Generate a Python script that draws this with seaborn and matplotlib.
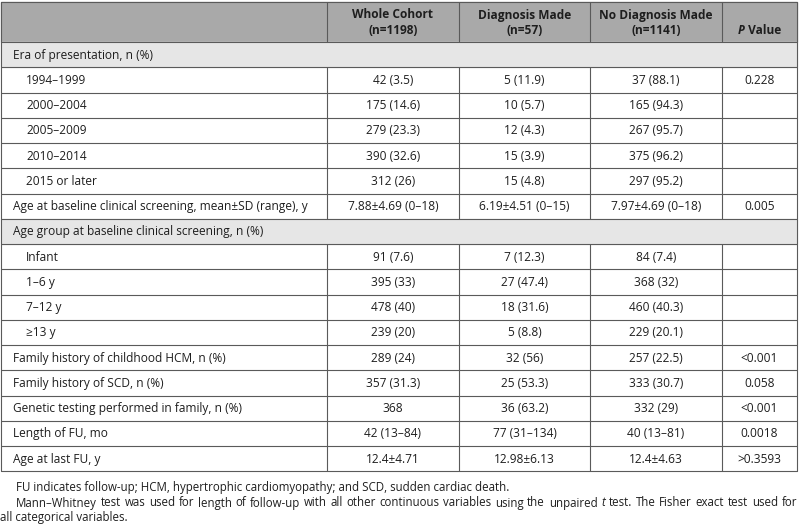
import matplotlib
matplotlib.use("Agg")
import matplotlib.pyplot as plt
import seaborn as sns
from matplotlib import font_manager

# table contents
headers = ["Whole Cohort\n(n=1198)", "Diagnosis Made\n(n=57)", "No Diagnosis Made\n(n=1141)"]
row_labels = [
    "Era of presentation, n (%)",
    "1994\u20131999", "2000\u20132004", "2005\u20132009", "2010\u20132014", "2015 or later",
    "Age at baseline clinical screening, mean\u00b1SD (range), y",
    "Age group at baseline clinical screening, n (%)",
    "Infant", "1\u20136 y", "7\u201312 y", "\u226513 y",
    "Family history of childhood HCM, n (%)",
    "Family history of SCD, n (%)",
    "Genetic testing performed in family, n (%)",
    "Length of FU, mo",
    "Age at last FU, y",
]
# 0 = group heading row, 1 = sub item, 2 = plain row
row_level = [0, 1, 1, 1, 1, 1, 2, 0, 1, 1, 1, 1, 2, 2, 2, 2, 2]
whole = ["", "42 (3.5)", "175 (14.6)", "279 (23.3)", "390 (32.6)", "312 (26)",
         "7.88\u00b14.69 (0\u201318)", "", "91 (7.6)", "395 (33)", "478 (40)", "239 (20)",
         "289 (24)", "357 (31.3)", "368", "42 (13\u201384)", "12.4\u00b14.71"]
diag = ["", "5 (11.9)", "10 (5.7)", "12 (4.3)", "15 (3.9)", "15 (4.8)",
        "6.19\u00b14.51 (0\u201315)", "", "7 (12.3)", "27 (47.4)", "18 (31.6)", "5 (8.8)",
        "32 (56)", "25 (53.3)", "36 (63.2)", "77 (31\u2013134)", "12.98\u00b16.13"]
nodiag = ["", "37 (88.1)", "165 (94.3)", "267 (95.7)", "375 (96.2)", "297 (95.2)",
          "7.97\u00b14.69 (0\u201318)", "", "84 (7.4)", "368 (32)", "460 (40.3)", "229 (20.1)",
          "257 (22.5)", "333 (30.7)", "332 (29)", "40 (13\u201381)", "12.4\u00b14.63"]
pvals = ["", "0.228", "", "", "", "", "0.005", "", "", "", "", "",
         "<0.001", "0.058", "<0.001", "0.0018", ">0.3593"]
note1 = "FU indicates follow-up; HCM, hypertrophic cardiomyopathy; and SCD, sudden cardiac death."
note2 = ("Mann\u2013Whitney test was used for length of follow-up with all other continuous "
         "variables using the unpaired *t test. The Fisher exact test used for")
note3 = "all categorical variables."

sns.set_theme(style="white")
avail = {f.name for f in font_manager.fontManager.ttflist}
body_font = "Open Sans" if "Open Sans" in avail else "DejaVu Sans"
plt.rcParams["font.family"] = [body_font, "DejaVu Sans"]

fig = plt.figure(figsize=(8, 5.29), dpi=100)
ax = fig.add_axes([0, 0, 1, 1])
ax.set_xlim(0, 800)
ax.set_ylim(529, 0)
ax.axis("off")
fig.canvas.draw()
rend = fig.canvas.get_renderer()

col_edges = [1, 327, 459, 590, 722, 797]
head_top, head_bot = 2, 42
row_h = 25.25
n = len(row_labels)
table_bot = head_bot + n * row_h
line_c = "#5a5a5a"
txt_c = "#1e1e1e"
lw = 0.8
fs = 8.6

# header background
ax.add_patch(plt.Rectangle((col_edges[0], head_top), col_edges[-1] - col_edges[0],
                           head_bot - head_top, color="#a9a9a9", zorder=0))
for i, h in enumerate(headers):
    cx = (col_edges[i + 1] + col_edges[i + 2]) / 2
    l1, l2 = h.split("\n")
    ax.text(cx, 15, l1, ha="center", va="center", fontsize=fs, fontweight="bold", color=txt_c)
    ax.text(cx, 31, l2, ha="center", va="center", fontsize=fs, fontweight="bold", color=txt_c)

# P Value header, italic P
pcx = (col_edges[4] + col_edges[5]) / 2
tp = ax.text(0, 31, "P", ha="left", va="center", fontsize=fs, fontweight="bold",
             style="italic", color=txt_c)
tv = ax.text(0, 31, " Value", ha="left", va="center", fontsize=fs, fontweight="bold", color=txt_c)
wp = tp.get_window_extent(rend).width
wv = tv.get_window_extent(rend).width
x0 = pcx - (wp + wv) / 2
tp.set_x(x0)
tv.set_x(x0 + wp)

for r in range(n):
    top = head_bot + r * row_h
    cy = top + row_h / 2 + 0.5
    if row_level[r] == 0:
        ax.add_patch(plt.Rectangle((col_edges[0], top), col_edges[-1] - col_edges[0], row_h,
                                   color="#e6e6e6", zorder=0))
    else:
        for x in col_edges[1:-1]:
            ax.plot([x, x], [top, top + row_h], color=line_c, lw=lw)
    indent = 26 if row_level[r] == 1 else 13
    ax.text(indent, cy, row_labels[r], ha="left", va="center", fontsize=fs, color=txt_c)
    for j, vals in enumerate([whole, diag, nodiag, pvals]):
        cx = (col_edges[j + 1] + col_edges[j + 2]) / 2
        ax.text(cx, cy, vals[r], ha="center", va="center", fontsize=fs, color=txt_c)
    ax.plot([col_edges[0], col_edges[-1]], [top, top], color=line_c, lw=lw)

# header vertical lines and outer border
for x in col_edges[1:-1]:
    ax.plot([x, x], [head_top, head_bot], color=line_c, lw=lw)
ax.plot([col_edges[0], col_edges[-1], col_edges[-1], col_edges[0], col_edges[0]],
        [head_top, head_top, table_bot, table_bot, head_top], color=line_c, lw=lw)

# footnotes
ffs = 8.3
ax.text(16, 487, note1, ha="left", va="center", fontsize=ffs, color=txt_c)

# justified second line; words starting with * are italic
words = note2.split(" ")
texts = []
for w in words:
    it = w.startswith("*")
    t = ax.text(0, 503, w.lstrip("*"), ha="left", va="center", fontsize=ffs, color=txt_c,
                style="italic" if it else "normal")
    texts.append(t)
widths = [t.get_window_extent(rend).width for t in texts]
gap = (797 - 16 - sum(widths)) / (len(words) - 1)
x = 16
for t, w in zip(texts, widths):
    t.set_x(x)
    x += w + gap

ax.text(0, 518, note3, ha="left", va="center", fontsize=ffs, color=txt_c)

fig.savefig("out.png", dpi=100)
